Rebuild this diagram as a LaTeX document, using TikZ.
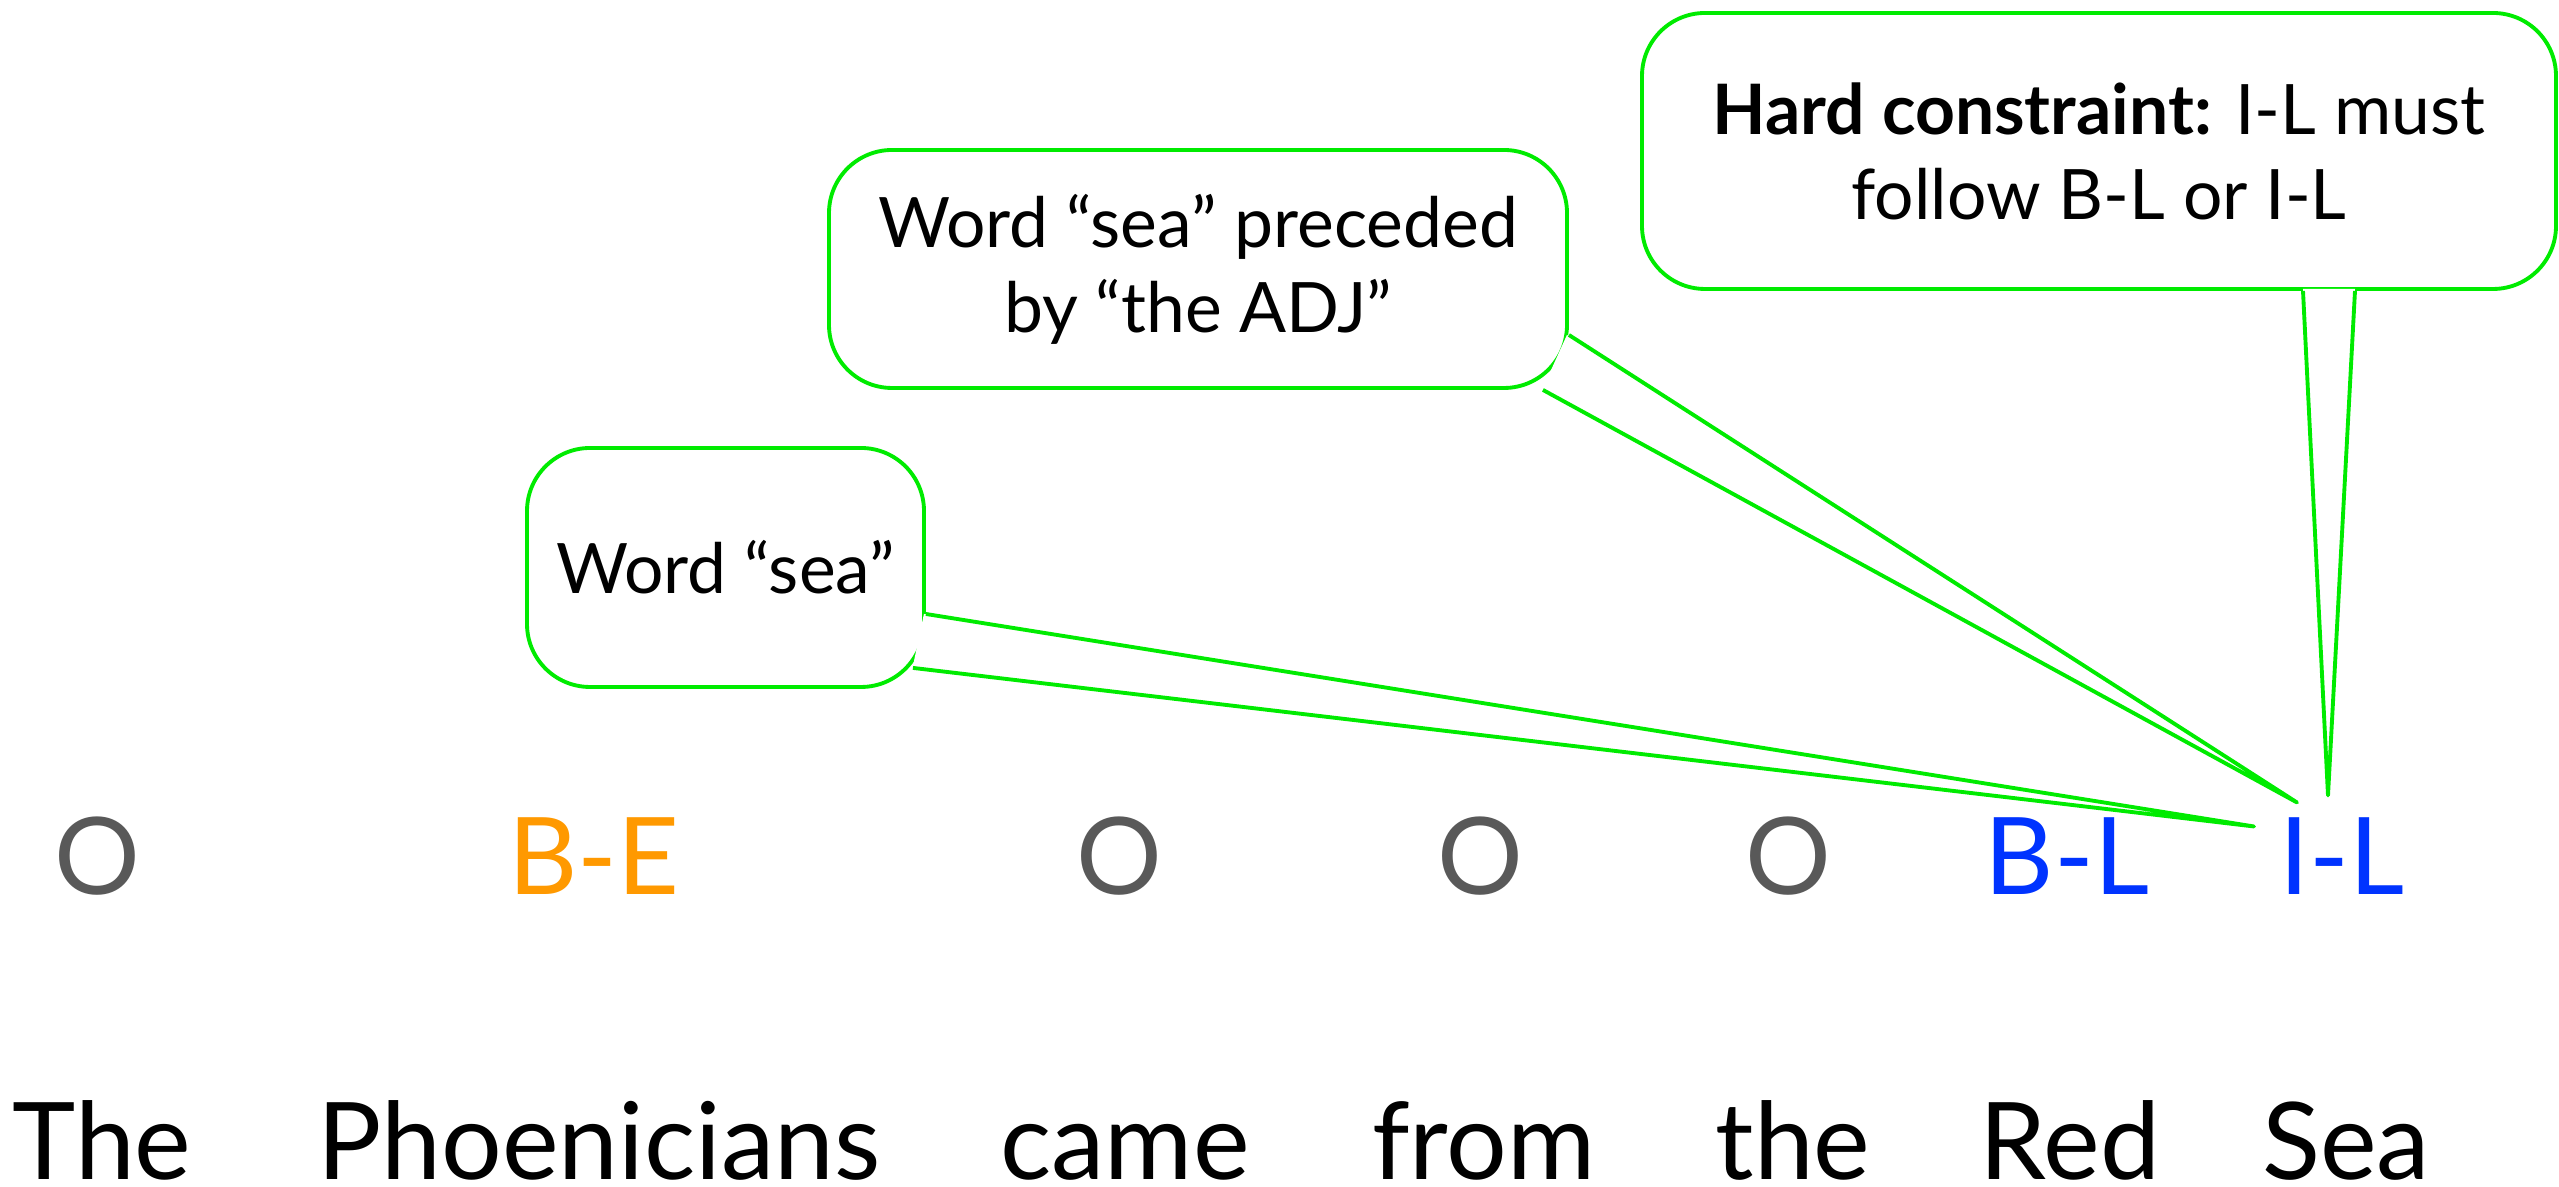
\documentclass[tikz,border=0pt]{standalone}
\usepackage{fontspec}
\setmainfont{Lato}
\usetikzlibrary{positioning, calc}
\definecolor{callgreen}{RGB}{0,235,0}
\definecolor{tagorange}{RGB}{255,153,0}
\definecolor{tagblue}{RGB}{0,51,255}
\definecolor{taggray}{RGB}{89,89,89}
\begin{document}
\begin{tikzpicture}
    \tikzstyle{word} = [anchor=base, inner sep=0pt, font=\fontsize{30.5pt}{36pt}\selectfont];
    \tikzstyle{tag} = [word];
    \tikzstyle{callout} = [draw=callgreen, fill=white, line width=1.1pt, rounded corners=0.63cm,
    align=center, font=\fontsize{19.8pt}{24.2pt}\selectfont];
    \tikzstyle{tail} = [draw=callgreen, line width=1.1pt, line join=round];
    \useasboundingbox (0,0) rectangle (25.59,11.87);
    % sentence
    \node [word] (w1) at (1.02,0.07) {The};
    \node [word] (w2) at (5.99,0.07) {Phoenicians};
    \node [word] (w3) at (11.25,0.07) {came};
    \node [word] (w4) at (14.84,0.07) {from};
    \node [word] (w5) at (17.93,0.07) {the};
    \node [word] (w6) at (20.70,0.07) {Red};
    \node [word] (w7) at (23.46,0.07) {Sea};
    % labels
    \node [tag, taggray] (t1) at (0.97,2.92) {O};
    \node [tag, tagorange] (t2) at (5.94,2.92) {B-E};
    \node [tag, taggray] (t3) at (11.19,2.92) {O};
    \node [tag, taggray] (t4) at (14.80,2.92) {O};
    \node [tag, taggray] (t5) at (17.88,2.92) {O};
    \node [tag, tagblue] (t6) at (20.67,2.92) {B-L};
    \node [tag, tagblue] (t7) at (23.42,2.92) {I-L};
    % callouts
    \node [callout, minimum width=3.97cm, minimum height=2.39cm] (c1) at (7.255,6.195) {Word ``sea''};
    \node [callout, minimum width=7.38cm, minimum height=2.38cm] (c2) at (11.98,9.18)
        {Word ``sea'' preceded\\ by ``the ADJ''};
    \node [callout, minimum width=9.14cm, minimum height=2.76cm] (c3) at (20.99,10.36)
        {\textbf{Hard constraint:} I-L must\\ follow B-L or I-L};
    \coordinate (p1) at ($(t7.north)+(-0.88,-0.09)$);
    \coordinate (p2) at ($(t7.north)+(-0.45,0.15)$);
    \coordinate (p3) at ($(t7.north)+(-0.14,0.22)$);
    % tails
    \fill[white] ($(c1.east)+(-0.02,-0.465)$) -- (p1) -- ($(c1.south east)+(-0.13,0.23)$) -- cycle;
    \draw[tail] ($(c1.east)+(0,-0.465)$) -- (p1) -- ($(c1.south east)+(-0.13,0.21)$);
    \fill[white] ($(c2.east)+(-0.02,-0.66)$) -- (p2) -- ($(c2.south east)+(-0.26,0.02)$) -- cycle;
    \draw[tail] ($(c2.east)+(0,-0.66)$) -- (p2) -- ($(c2.south east)+(-0.26,0)$);
    \fill[white] ($(c3.south)+(2.04,0.02)$) -- (p3) -- ($(c3.south)+(2.56,0.02)$) -- cycle;
    \draw[tail] ($(c3.south)+(2.04,0)$) -- (p3) -- ($(c3.south)+(2.56,0)$);
\end{tikzpicture}
\end{document}
